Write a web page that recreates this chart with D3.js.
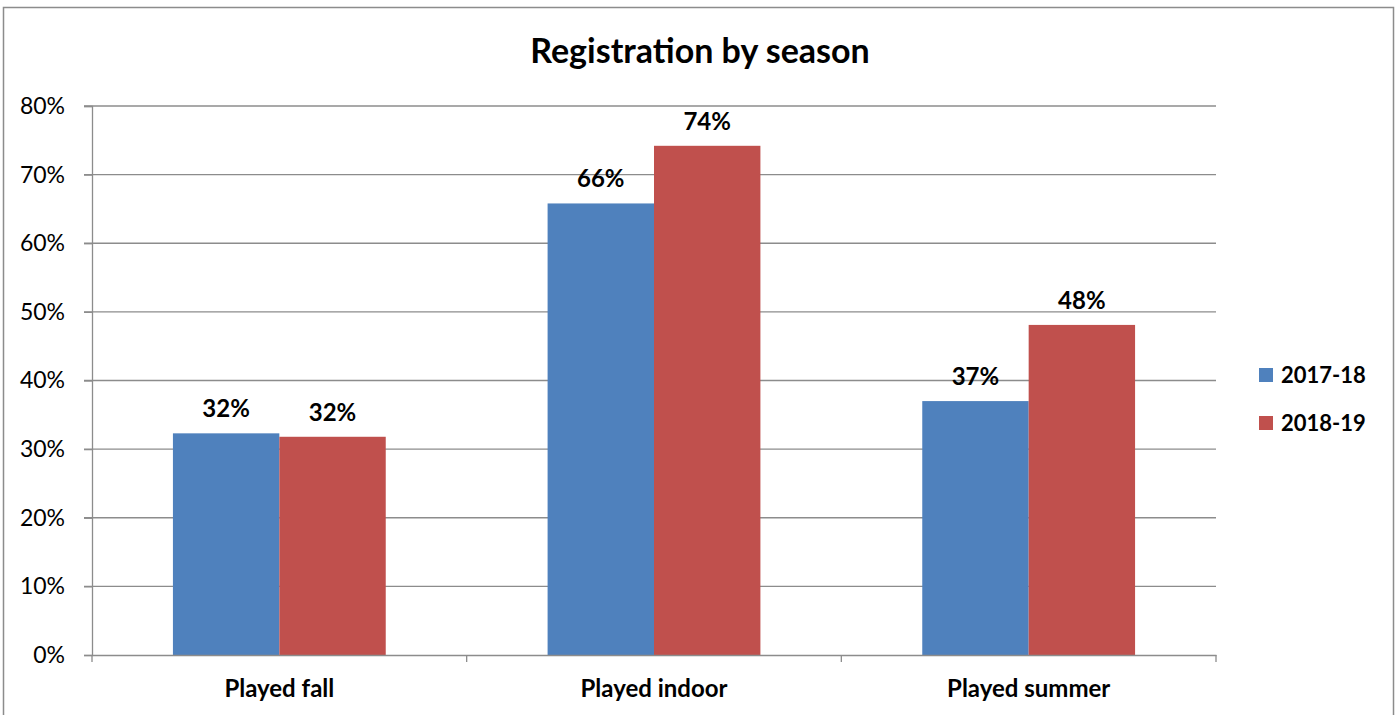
<!DOCTYPE html>
<html>
<head>
<meta charset="utf-8">
<script src="https://cdn.jsdelivr.net/npm/d3@7"></script>
<style>
  body { margin: 0; background: #fff; }
  svg text { font-family: Lato, "Open Sans", sans-serif; }
</style>
</head>
<body>
<svg id="chart"></svg>
<script>
const categories = ["Played fall", "Played indoor", "Played summer"];
const seriesNames = ["2017-18", "2018-19"];
const values2017 = [32.3, 65.8, 37.0];
const values2018 = [31.8, 74.2, 48.1];
const yTicks = [0, 10, 20, 30, 40, 50, 60, 70, 80];
const colors = ["#4f81bd", "#c0504d"];

const W = 1398, H = 715;
const margin = {top: 106, left: 92, right: 182, bottom: 60};
const width = W - margin.left - margin.right,
    height = H - margin.top - margin.bottom;

const svg = d3.select("#chart").attr("width", W).attr("height", H);

svg.append("rect")
    .attr("x", 3.5).attr("y", 7.5)
    .attr("width", 1390).attr("height", 720)
    .attr("fill", "#fff").attr("stroke", "#8c8c8c").attr("stroke-width", 1.5);

svg.append("text")
    .attr("x", 700).attr("y", 63)
    .attr("text-anchor", "middle")
    .attr("font-size", 34).attr("font-weight", "bold")
    .text("Registration by season");

const g = svg.append("g")
    .attr("transform", "translate(" + margin.left + "," + margin.top + ")");

const x0 = d3.scaleBand().domain(categories).range([0, width]).paddingInner(0).paddingOuter(0);
const x1 = d3.scaleBand().domain(seriesNames).range([x0.bandwidth() * 0.216, x0.bandwidth() * 0.784]);
const y = d3.scaleLinear().domain([0, 80]).range([height, 0]);

// gridlines
g.selectAll(".grid")
    .data(yTicks.slice(1))
    .enter().append("line")
    .attr("x1", -8).attr("x2", width)
    .attr("y1", d => y(d)).attr("y2", d => y(d))
    .attr("stroke", "#8c8c8c").attr("stroke-width", 1.3);

const yAxis = g.append("g")
    .call(d3.axisLeft(y).tickValues(yTicks).tickSize(8).tickPadding(19).tickFormat(d => d + "%"));
yAxis.select(".domain").attr("stroke", "#8c8c8c").attr("stroke-width", 1.3);
yAxis.selectAll(".tick line").attr("stroke", "#8c8c8c").attr("stroke-width", 1.3);
yAxis.selectAll("text").attr("font-size", 23).attr("fill", "#000")
    .style("font-family", "Lato, sans-serif");

const data = categories.map((c, i) => ({cat: c, vals: [values2017[i], values2018[i]]}));

const groups = g.selectAll(".cat")
    .data(data)
    .enter().append("g")
    .attr("transform", d => "translate(" + x0(d.cat) + ",0)");

groups.selectAll("rect")
    .data(d => d.vals.map((v, j) => ({name: seriesNames[j], v: v, j: j})))
    .enter().append("rect")
    .attr("x", d => x1(d.name))
    .attr("width", x1.bandwidth())
    .attr("y", d => y(d.v))
    .attr("height", d => height - y(d.v))
    .attr("fill", d => colors[d.j]);

groups.selectAll(".lbl")
    .data(d => d.vals.map((v, j) => ({name: seriesNames[j], v: v})))
    .enter().append("text")
    .attr("x", d => x1(d.name) + x1.bandwidth() / 2)
    .attr("y", d => y(d.v) - 16)
    .attr("text-anchor", "middle")
    .attr("font-size", 24).attr("font-weight", "bold")
    .text(d => Math.round(d.v) + "%");

// x axis
const xAxis = g.append("g")
    .attr("transform", "translate(0," + height + ")")
    .call(d3.axisBottom(x0).tickSize(0).tickPadding(25));
xAxis.select(".domain").attr("stroke", "#8c8c8c").attr("stroke-width", 1.3);
xAxis.selectAll("text").attr("font-size", 24).attr("font-weight", "bold").attr("fill", "#000")
    .style("font-family", "Lato, sans-serif");
g.selectAll(".xsep")
    .data(d3.range(categories.length + 1))
    .enter().append("line")
    .attr("x1", i => i * x0.bandwidth()).attr("x2", i => i * x0.bandwidth())
    .attr("y1", height).attr("y2", height + 7)
    .attr("stroke", "#8c8c8c").attr("stroke-width", 1.3);

// legend
const legend = svg.append("g").attr("transform", "translate(1259,368)");
seriesNames.forEach((s, i) => {
    legend.append("rect").attr("x", 0).attr("y", i * 48)
        .attr("width", 14).attr("height", 14).attr("fill", colors[i]);
    legend.append("text").attr("x", 22).attr("y", i * 48 + 15)
        .attr("font-size", 22).attr("font-weight", "bold").text(s);
});
</script>
</body>
</html>
